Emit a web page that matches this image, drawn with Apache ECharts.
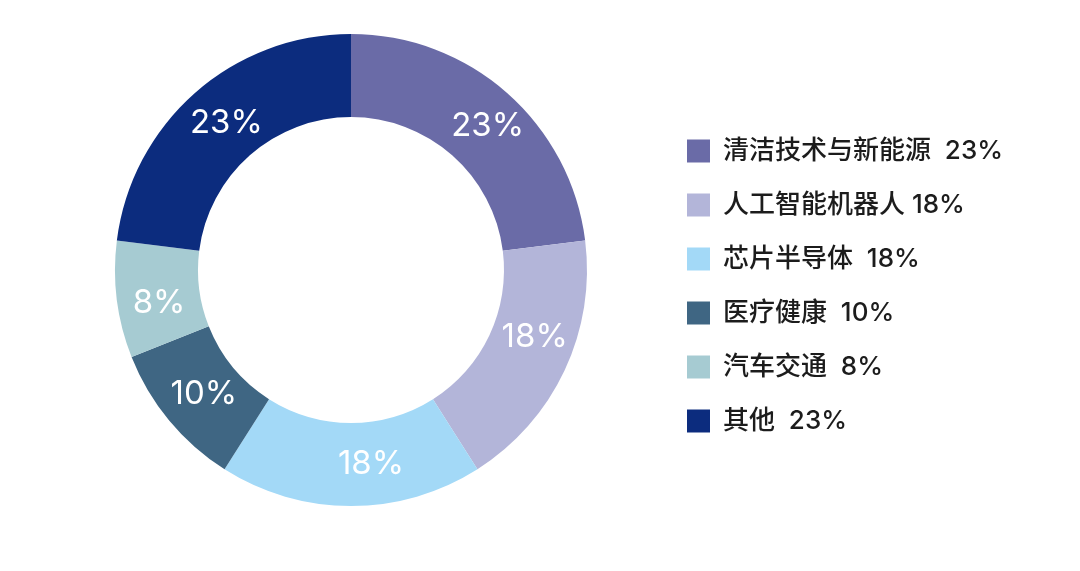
<!DOCTYPE html>
<html>
<head>
<meta charset="utf-8">
<script src="https://cdn.jsdelivr.net/npm/echarts@6/dist/echarts.min.js"></script>
<style>
  html, body { margin: 0; padding: 0; background: #fff; }
  #main { width: 1080px; height: 571px; }
</style>
</head>
<body>
<div id="main"></div>
<script>
var categories = ['清洁技术与新能源', '人工智能机器人', '芯片半导体', '医疗健康', '汽车交通', '其他'];
var shares = [23, 18, 18, 10, 8, 23];
var legendGaps = ['  ', ' ', '  ', '  ', '  ', '  '];
var colors = ['#6a6ba7', '#b3b5d9', '#a3d9f7', '#3f6683', '#a6cbd2', '#0c2c7e'];

var chartDom = document.getElementById('main');
var myChart = echarts.init(chartDom);

// small nudges so the ring labels sit where the designer put them
var labelNudge = [[6, 4], [5, -17], [20, -3], [5, -2], [4, 8], [6, 1]];

var data = categories.map(function (name, i) {
  return {
    name: name,
    value: shares[i],
    itemStyle: { color: colors[i] },
    label: { offset: labelNudge[i] }
  };
});

var option = {
  backgroundColor: '#fff',
  legend: {
    orient: 'vertical',
    left: 687,
    top: 138,
    padding: 0,
    itemWidth: 23,
    itemHeight: 23,
    itemGap: 28,
    icon: 'rect',
    textStyle: {
      fontSize: 26,
      fontWeight: 500,
      color: '#1c1c1c',
      fontFamily: 'Inter, "Noto Sans CJK SC", sans-serif',
      padding: [0, 0, 0, 8]
    },
    formatter: function (name) {
      var i = categories.indexOf(name);
      return name + legendGaps[i] + shares[i] + '%';
    }
  },
  series: [
    {
      type: 'pie',
      center: [351, 270],
      radius: [153, 236],
      startAngle: 90,
      clockwise: true,
      avoidLabelOverlap: false,
      label: {
        position: 'inside',
        formatter: '{c}%',
        color: '#fff',
        fontSize: 33,
        fontFamily: 'Inter, sans-serif'
      },
      labelLine: { show: false },
      emphasis: { disabled: true },
      data: data
    }
  ]
};

myChart.setOption(option);
</script>
</body>
</html>
